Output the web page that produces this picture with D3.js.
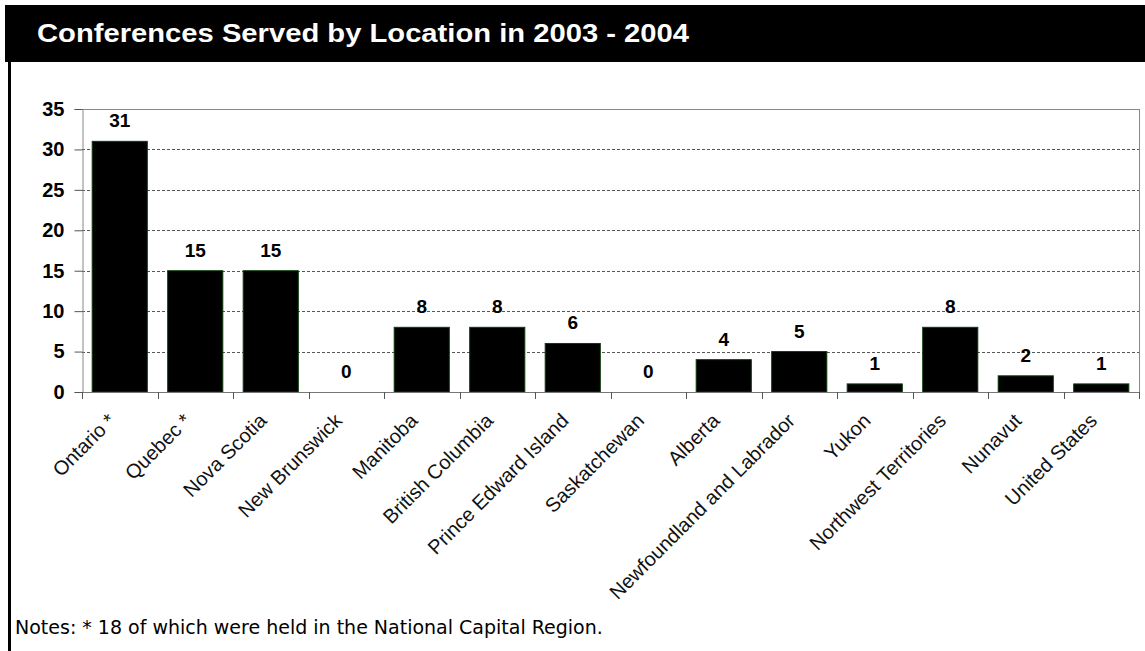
<!DOCTYPE html>
<html>
<head>
<meta charset="utf-8">
<script src="https://cdn.jsdelivr.net/npm/d3@7"></script>
<style>
body { margin: 0; background: #fff; }
svg { display: block; }
</style>
</head>
<body>
<script>
var w = 1145, h = 651;

// data
var locations = ["Ontario *", "Quebec *", "Nova Scotia", "New Brunswick", "Manitoba",
	"British Columbia", "Prince Edward Island", "Saskatchewan", "Alberta",
	"Newfoundland and Labrador", "Yukon", "Northwest Territories", "Nunavut", "United States"];
var conferences = [31, 15, 15, 0, 8, 8, 6, 0, 4, 5, 1, 8, 2, 1];
var yTicks = [0, 5, 10, 15, 20, 25, 30, 35];
var titre = "Conferences Served by Location in 2003 - 2004";
var note = "Notes: * 18 of which were held in the National Capital Region.";

var svg = d3.select("body").append("svg")
	.attr("width", w)
	.attr("height", h);

// bandeau du titre
svg.append("rect")
	.attr("x", 5).attr("y", 5)
	.attr("width", w - 5).attr("height", 57)
	.style("fill", "#000");
svg.append("text")
	.attr("x", 37).attr("y", 42)
	.attr("textLength", 652)
	.attr("lengthAdjust", "spacingAndGlyphs")
	.style("font-family", "Liberation Sans, Arial, sans-serif")
	.style("font-weight", "bold")
	.style("font-size", "25px")
	.style("fill", "#fff")
	.text(titre);

// bordure gauche
svg.append("rect")
	.attr("x", 8).attr("y", 62)
	.attr("width", 3).attr("height", h - 62)
	.style("fill", "#000");

var m = {left: 82, top: 109, right: 1139, bottom: 392};

var x = d3.scaleBand()
	.domain(locations)
	.range([m.left, m.right])
	.paddingInner(0.27)
	.paddingOuter(0.135);

var y = d3.scaleLinear()
	.domain([0, 35])
	.range([m.bottom, m.top]);

// grille pointillée
svg.append("g").selectAll("line")
	.data(yTicks.filter(function(d){ return d > 0 && d < 35; }))
	.enter()
	.append("line")
	.attr("x1", m.left).attr("x2", m.right)
	.attr("y1", function(d){ return Math.round(y(d)) + 0.5; })
	.attr("y2", function(d){ return Math.round(y(d)) + 0.5; })
	.style("stroke", "#555")
	.style("stroke-width", 1)
	.style("stroke-dasharray", "3,2");

// cadre du graphique
svg.append("line")
	.attr("x1", m.left).attr("x2", m.right)
	.attr("y1", m.top + 0.5).attr("y2", m.top + 0.5)
	.style("stroke", "#888");
svg.append("line")
	.attr("x1", m.right + 0.5).attr("x2", m.right + 0.5)
	.attr("y1", m.top).attr("y2", m.bottom)
	.style("stroke", "#888");

// barres
svg.append("g").selectAll("rect")
	.data(conferences)
	.enter()
	.append("rect")
	.attr("x", function(d, i){ return x(locations[i]); })
	.attr("width", x.bandwidth())
	.attr("y", function(d){ return y(d); })
	.attr("height", function(d){ return y(0) - y(d); })
	.style("fill", "#000")
	.style("stroke", function(d){ return d > 0 ? "#0b3d0b" : "none"; })
	.style("stroke-width", 1);

// étiquettes de valeurs
svg.append("g").selectAll("text")
	.data(conferences)
	.enter()
	.append("text")
	.attr("x", function(d, i){ return x(locations[i]) + x.bandwidth() / 2; })
	.attr("y", function(d){ return y(d) - 14; })
	.attr("text-anchor", "middle")
	.style("font-family", "Liberation Sans, Arial, sans-serif")
	.style("font-weight", "bold")
	.style("font-size", "19px")
	.text(function(d){ return d; });

// axe Y
var yAxis = d3.axisLeft(y).tickValues(yTicks).tickSize(8).tickPadding(10);
var gy = svg.append("g")
	.attr("transform", "translate(" + (m.left + 0.5) + ",0)")
	.call(yAxis);
gy.select(".domain").style("stroke", "#888");
gy.selectAll(".tick line").style("stroke", "#555");
gy.selectAll("text")
	.style("font-family", "Liberation Sans, Arial, sans-serif")
	.style("font-weight", "bold")
	.style("font-size", "20px")
	.style("fill", "#000");

// axe X : ticks aux limites des catégories
var xStep = x.step();
var x0 = x(locations[0]) - (xStep - x.bandwidth()) / 2;
var bounds = d3.range(locations.length + 1).map(function(i){ return x0 + i * xStep; });
svg.append("line")
	.attr("x1", m.left).attr("x2", m.right + 1)
	.attr("y1", m.bottom + 0.5).attr("y2", m.bottom + 0.5)
	.style("stroke", "#777");
svg.append("g").selectAll("line")
	.data(bounds)
	.enter()
	.append("line")
	.attr("x1", function(d){ return Math.round(d) + 0.5; })
	.attr("x2", function(d){ return Math.round(d) + 0.5; })
	.attr("y1", m.bottom).attr("y2", m.bottom + 7)
	.style("stroke", "#555");

// étiquettes X inclinées
svg.append("g").selectAll("text")
	.data(locations)
	.enter()
	.append("text")
	.attr("transform", function(d){
		var cx = x(d) + x.bandwidth() / 2 - 3;
		return "translate(" + cx + "," + (m.bottom + 30) + ") rotate(-45)";
	})
	.attr("text-anchor", "end")
	.style("font-family", "Liberation Sans, Arial, sans-serif")
	.style("font-size", "20px")
	.style("fill", "#111")
	.text(function(d){ return d; });

// note
svg.append("text")
	.attr("x", 15).attr("y", 634)
	.style("font-family", "DejaVu Sans, Verdana, sans-serif")
	.style("font-size", "19px")
	.style("fill", "#000")
	.text(note);
</script>
</body>
</html>
